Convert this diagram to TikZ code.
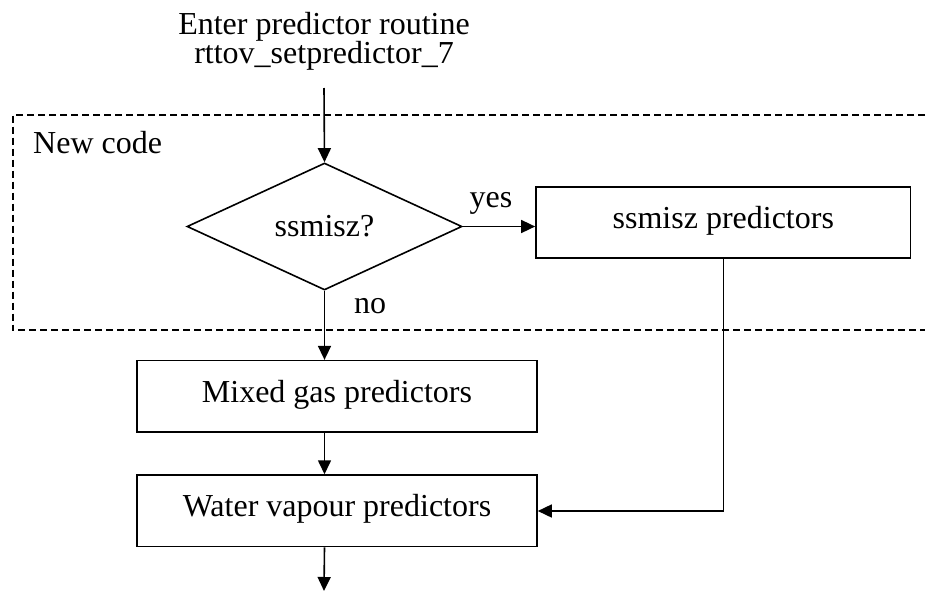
\documentclass[tikz,border=0pt]{standalone}
\usepackage{fontspec}
\setmainfont{Liberation Serif}
\usetikzlibrary{shapes.geometric,arrows.meta}
\begin{document}
\begin{tikzpicture}[x=1pt,y=-1pt,
  font=\fontsize{32}{36}\selectfont,
  arr/.style={line width=1.6pt,-{Triangle[length=14pt,width=13pt]}},
  boxnode/.style={draw,line width=1.6pt,minimum width=400pt,minimum height=71.5pt,inner sep=0pt,text height=21pt,text depth=9pt},
  decision/.style={draw,diamond,aspect=2.17,line width=1.6pt,minimum width=275pt,minimum height=127pt,inner sep=0pt},
  plain/.style={inner sep=0pt}
]
\useasboundingbox (0,0) rectangle (929,592);

% dashed "new code" region (open on the right)
\draw[line width=1.6pt,dash pattern=on 7pt off 4pt] (925,115) -- (12.7,115) -- (12.7,330) -- (925,330);

\node[plain,anchor=base] (t1) at (324,34) {Enter predictor routine};
\node[plain,anchor=base] (t2) at (324,63) {rttov\_setpredictor\_7};
\coordinate (start) at (324,88);

\node[plain,anchor=base west] (nc) at (33,153) {New code};

\node[decision] (d) at (324.5,226.5) {ssmisz?};
\node[boxnode,minimum width=374.7pt] (sp) at (723.3,222.5) {ssmisz predictors};
\node[plain,anchor=base] (yes) at (491,207) {yes};
\node[plain,anchor=base] (no) at (370,313) {no};

\node[boxnode] (mg) at (337,396.4) {Mixed gas predictors};
\node[boxnode] (wv) at (337,510.8) {Water vapour predictors};

\coordinate (turn) at (723.3,511);
\coordinate (endpt) at (324,591);

\draw[arr] (start) -- (d.north);
\draw[arr] (d.east) -- (d.east -| sp.west);
\draw[arr] (d.south) -- (d.south |- mg.north);
\draw[arr] (d.south |- mg.south) -- (d.south |- wv.north);
\draw[arr] (d.south |- wv.south) -- (endpt);
\draw[arr] (sp.south) -- (turn) -- (turn -| wv.east);
\end{tikzpicture}
\end{document}
